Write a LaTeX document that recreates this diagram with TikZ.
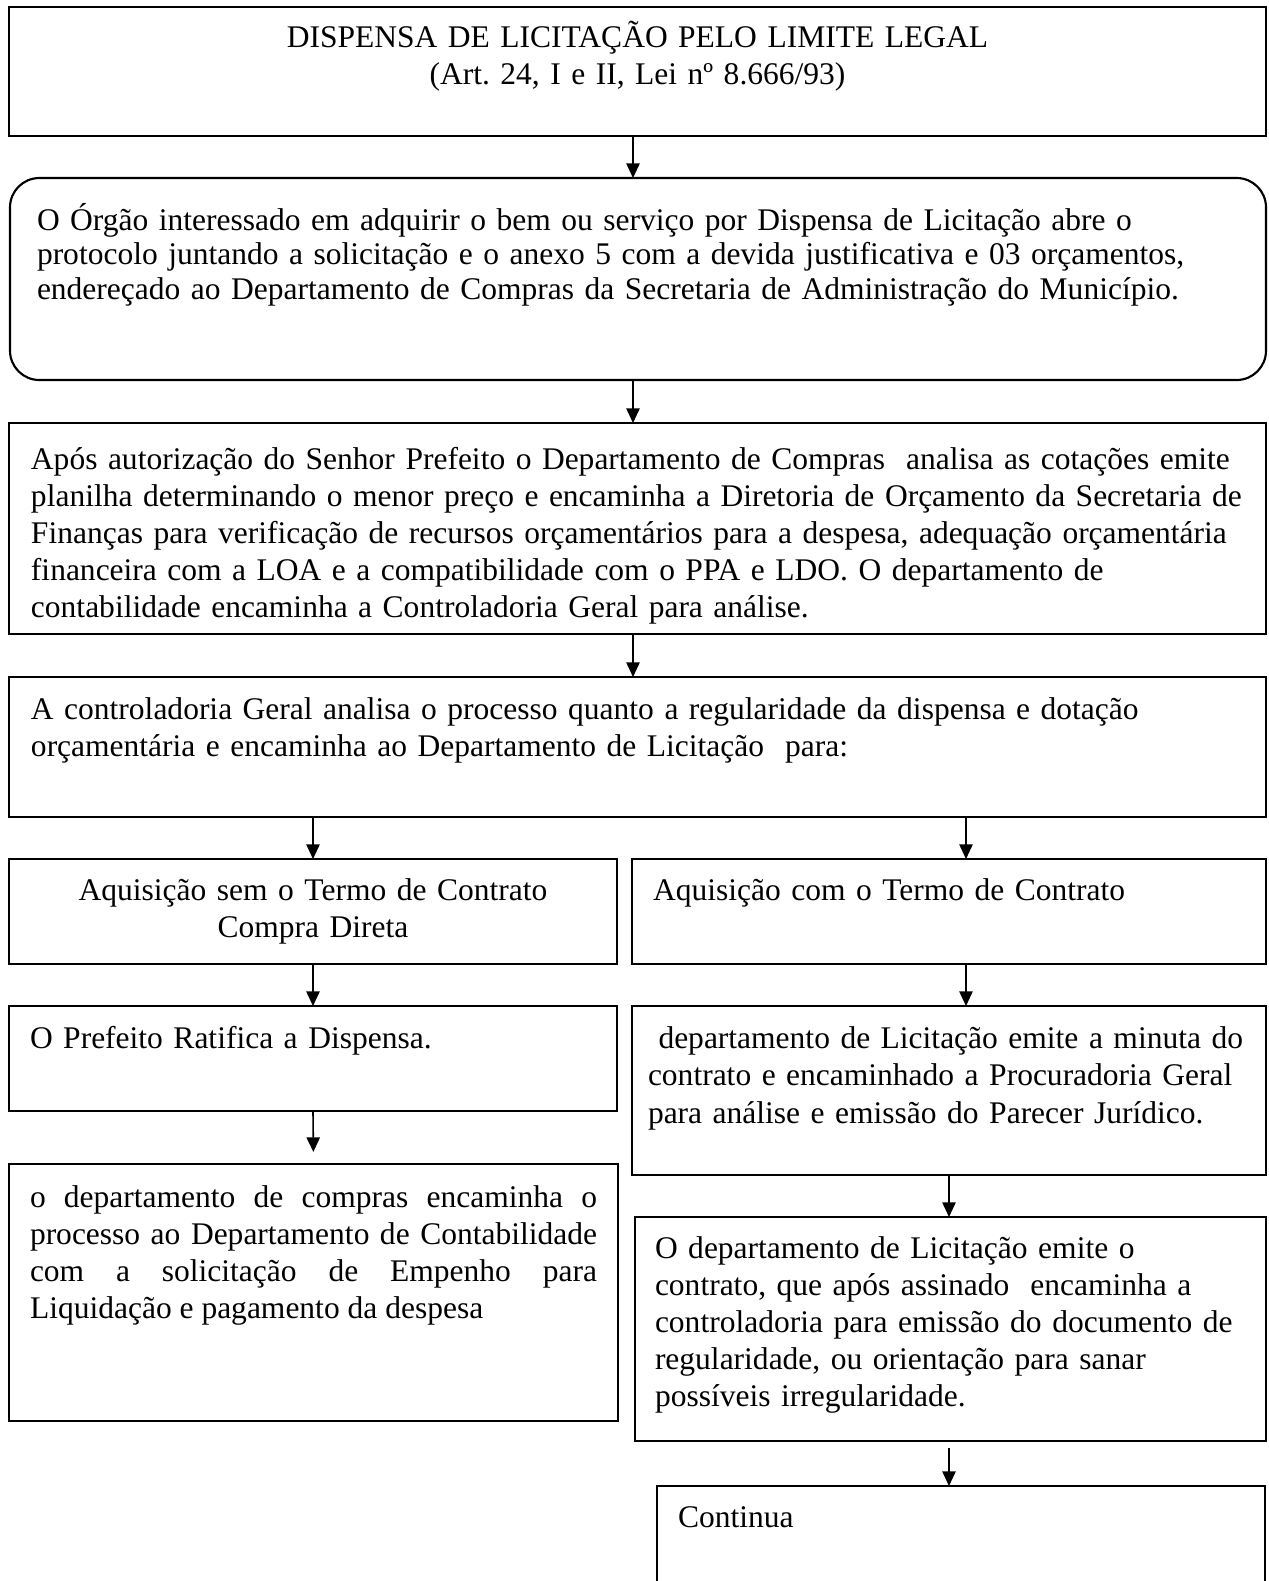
\documentclass[tikz,border=0pt]{standalone}
\usepackage{fontspec}
\setmainfont{Liberation Serif}
\usetikzlibrary{arrows.meta}
\frenchspacing
\newdimen\pxu \pxu=0.3745pt

\begin{document}
\begin{tikzpicture}[x=\pxu, y=-\pxu,
	caixa/.style={draw, line width=0.8pt, rectangle, anchor=north west, outer sep=0pt, inner ysep=0pt, align=left, font=\fontsize{11.8pt}{13.9pt}\selectfont},
	dims/.style n args={4}{text width=#1\pxu, inner xsep=#2\pxu, text height=#3\pxu, text depth=#4\pxu},
	seta/.style={line width=0.6pt, -{Triangle[length=5.5pt,width=5pt]}}]
\useasboundingbox (0,0) rectangle (1268,1581);

% coluna central e ramos
\coordinate (eixoC) at (633,0);
\coordinate (eixoE) at (313,0);
\coordinate (eixoD) at (966,0);
\coordinate (eixoF) at (949,0);

\node[caixa, align=center, dims={1213}{22}{40}{89}] (titulo) at (9,7)
	{DISPENSA DE LICITAÇÃO PELO LIMITE LEGAL\\(Art. 24, I e II, Lei nº 8.666/93)};
\node[caixa, rounded corners=11pt, font=\fontsize{11.8pt}{13pt}\selectfont, dims={1202}{27}{52}{150}] (orgao) at (10,178)
	{O Órgão interessado em adquirir o bem ou serviço por Dispensa de Licitação abre o\\
	protocolo juntando a solicitação e o anexo 5 com a devida justificativa e 03 orçamentos,\\
	endereçado ao Departamento de Compras da Secretaria de Administração do Município.};
\node[caixa, dims={1213}{22}{46}{165}] (apos) at (9,423)
	{Após autorização do Senhor Prefeito o Departamento de Compras~ analisa as cotações emite\\
	planilha determinando o menor preço e encaminha a Diretoria de Orçamento da Secretaria de\\
	Finanças para verificação de recursos orçamentários para a despesa, adequação orçamentária\\
	financeira com a LOA e a compatibilidade com o PPA e LDO. O departamento de\\
	contabilidade encaminha a Controladoria Geral para análise.};
\node[caixa, dims={1213}{22}{42}{98}] (control) at (9,677)
	{A controladoria Geral analisa o processo quanto a regularidade da dispensa e dotação\\
	orçamentária e encaminha ao Departamento de Licitação~ para:};

% ramo sem contrato
\node[caixa, align=center, dims={568}{20}{41}{64}] (semcontrato) at (9,859)
	{Aquisição sem o Termo de Contrato\\Compra Direta};
\node[caixa, dims={566}{21}{42}{63}] (prefeito) at (9,1006)
	{O Prefeito Ratifica a Dispensa.};
\node[caixa, align=justify, dims={567}{21}{43}{214}] (compras) at (9,1164)
	{\tolerance=10000 o departamento de compras encaminha o\linebreak
	processo ao Departamento de Contabilidade\linebreak
	com a solicitação de Empenho para\linebreak
	Liquidação e pagamento da despesa};

% ramo com contrato
\node[caixa, dims={592}{21}{41}{64}] (comcontrato) at (632,859)
	{Aquisição com o Termo de Contrato};
\node[caixa, font=\fontsize{11.8pt}{14.1pt}\selectfont, dims={602}{16}{42}{127}] (minuta) at (632,1006)
	{\ departamento de Licitação emite a minuta do\\
	contrato e encaminhado a Procuradoria Geral\\
	para análise e emissão do Parecer Jurídico.};
\node[caixa, dims={591}{20}{41}{183}] (contrato) at (635,1217)
	{O departamento de Licitação emite o\\
	contrato, que após assinado~ encaminha a\\
	controladoria para emissão do documento de\\
	regularidade, ou orientação para sanar\\
	possíveis irregularidade.};
\node[caixa, dims={566}{21}{41}{100}] (continua) at (657,1486)
	{Continua};

\path[seta]
(titulo.south -| eixoC) edge (orgao.north -| eixoC)
(orgao.south -| eixoC) edge (apos.north -| eixoC)
(apos.south -| eixoC) edge (control.north -| eixoC)
(control.south -| eixoE) edge (semcontrato.north)
(control.south -| eixoD) edge (comcontrato.north -| eixoD)
(semcontrato.south) edge (prefeito.north)
(comcontrato.south -| eixoD) edge (minuta.north -| eixoD)
(prefeito.south) edge[shorten >=4.5pt] (compras.north)
(minuta.south) edge (contrato.north -| eixoF)
(contrato.south -| eixoF) edge[shorten <=2.6pt] (continua.north -| eixoF)
;
\end{tikzpicture}
\end{document}
